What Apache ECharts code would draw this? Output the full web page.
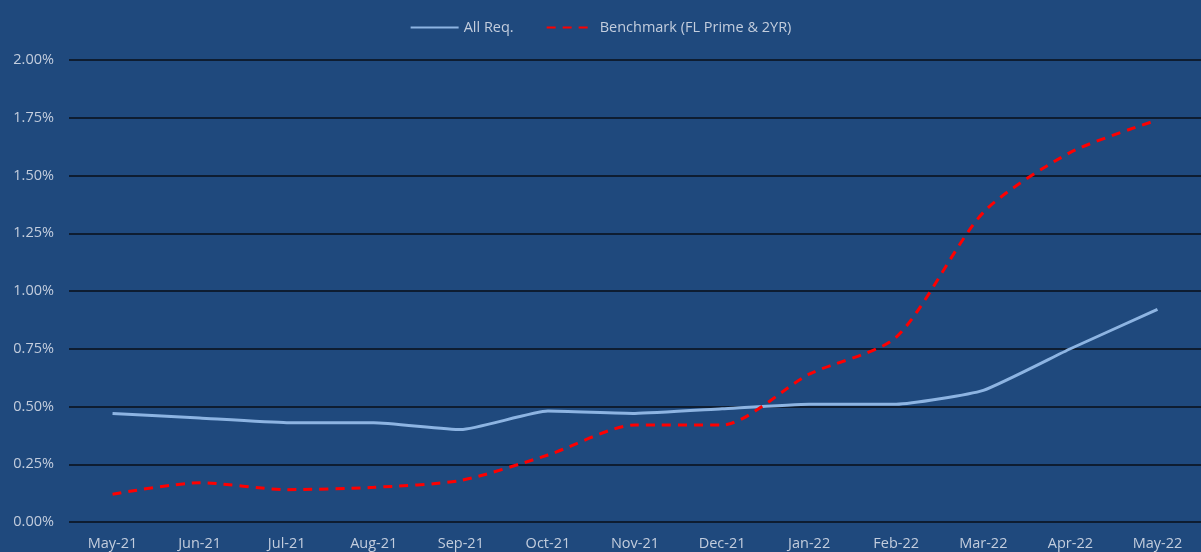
<!DOCTYPE html>
<html>
<head>
<meta charset="utf-8">
<script src="https://cdn.jsdelivr.net/npm/echarts@6/dist/echarts.min.js"></script>
<style>
  html, body { margin: 0; padding: 0; background: #1f497d; }
  #chart { width: 1201px; height: 552px; }
</style>
</head>
<body>
<div id="chart"></div>
<script>
const months = ['May-21', 'Jun-21', 'Jul-21', 'Aug-21', 'Sep-21', 'Oct-21', 'Nov-21',
  'Dec-21', 'Jan-22', 'Feb-22', 'Mar-22', 'Apr-22', 'May-22']
const allReq = [0.47, 0.45, 0.43, 0.43, 0.40, 0.48, 0.47, 0.49, 0.51, 0.51, 0.57, 0.75, 0.92]
const benchmark = [0.12, 0.17, 0.14, 0.15, 0.18, 0.29, 0.42, 0.42, 0.64, 0.80, 1.34, 1.60, 1.74]

const labelColor = '#c3cddd'
const font = 'Open Sans'

let chart = echarts.init(document.getElementById('chart'))
const option = {
  backgroundColor: '#1f497d',
  textStyle: { fontFamily: font },
  legend: {
    top: 15,
    left: 'center',
    itemGap: 32,
    itemWidth: 48,
    itemHeight: 10,
    itemStyle: { opacity: 0 },
    textStyle: { color: labelColor, fontSize: 14.5, fontFamily: font },
    data: ['All Req.', 'Benchmark (FL Prime & 2YR)']
  },
  grid: { left: 69, right: 0, top: 60, bottom: 30 },
  xAxis: {
    type: 'category',
    data: months,
    boundaryGap: true,
    axisLine: { show: false },
    axisTick: { show: false },
    axisLabel: { color: labelColor, fontSize: 14.5, margin: 14, fontFamily: font }
  },
  yAxis: {
    type: 'value',
    min: 0,
    max: 2,
    interval: 0.25,
    axisLine: { show: false },
    axisTick: { show: false },
    axisLabel: {
      color: labelColor,
      fontSize: 14.5,
      margin: 15,
      fontFamily: font,
      formatter: v => v.toFixed(2) + '%'
    },
    splitLine: { lineStyle: { color: '#0a0f18', width: 1.5 } }
  },
  series: [{
    name: 'All Req.',
    type: 'line',
    data: allReq,
    smooth: 0.15,
    symbol: 'none',
    itemStyle: { color: '#8db4e2' },
    lineStyle: { color: '#8db4e2', width: 3 }
  }, {
    name: 'Benchmark (FL Prime & 2YR)',
    type: 'line',
    data: benchmark,
    smooth: 0.25,
    symbol: 'none',
    itemStyle: { color: '#ff0000' },
    lineStyle: { color: '#ff0000', width: 3, type: [9, 7] }
  }]
}
chart.setOption(option)
</script>
</body>
</html>
